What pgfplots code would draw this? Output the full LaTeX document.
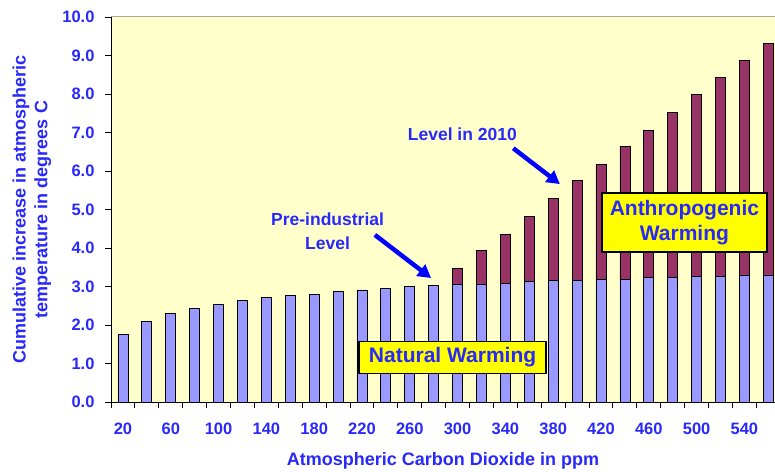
\documentclass[border=0pt]{standalone}
\usepackage{fontspec}
\setmainfont{Liberation Sans}
\usepackage{pgfplots}
\usepackage{pgfplotstable}
\pgfplotsset{compat=1.18}
\usetikzlibrary{arrows.meta}
\definecolor{bgy}{HTML}{FFFFCC}
\definecolor{natblue}{HTML}{9999FF}
\definecolor{anthro}{HTML}{993366}
\definecolor{boxy}{HTML}{FFFF00}
\definecolor{txtblue}{RGB}{40,40,250}
\definecolor{arrblue}{HTML}{0000FF}
\pgfplotstableread{
x nat anth
0 1.75 0
1 2.10 0
2 2.29 0
3 2.44 0
4 2.53 0
5 2.64 0
6 2.72 0
7 2.76 0
8 2.80 0
9 2.87 0
10 2.91 0
11 2.94 0
12 2.99 0
13 3.02 0
14 3.05 0.43
15 3.05 0.89
16 3.08 1.27
17 3.12 1.70
18 3.15 2.13
19 3.15 2.60
20 3.19 2.98
21 3.19 3.45
22 3.23 3.83
23 3.23 4.29
24 3.26 4.73
25 3.26 5.16
26 3.30 5.57
27 3.30 6.01
}\data
\begin{document}
\begin{tikzpicture}
\path[use as bounding box] (0,0) rectangle (775bp,472bp);
\begin{axis}[
  at={(111bp,70bp)}, anchor=south west,
  scale only axis, width=664bp, height=385bp,
  xmin=-0.5, xmax=27.28, ymin=0, ymax=10,
  ybar stacked, bar width=10bp,
  axis x line*=bottom, axis y line*=left,
  axis line style={-, black, line width=0.9bp},
  axis background/.style={fill=bgy},
  clip=false,
  tick align=outside,
  major tick length=6bp, minor tick length=6bp,
  tick style={black, line width=0.9bp},
  major x tick style={draw=none},
  xtick={0,2,...,26},
  xticklabels={20,60,100,140,180,220,260,300,340,380,420,460,500,540},
  minor xtick={-0.5,0.5,...,26.5},
  ytick={0,1,...,10},
  /pgf/number format/assume math mode=true,
  tick label style={font=\fontsize{16.5bp}{18bp}\selectfont\bfseries, text=txtblue},
  xticklabel style={yshift=-11bp},
  yticklabel style={xshift=-7bp, /pgf/number format/fixed, /pgf/number format/fixed zerofill, /pgf/number format/precision=1},
  xlabel={Atmospheric Carbon Dioxide in ppm},
  xlabel style={at={(axis description cs:0.5,-0.153)}, anchor=center, font=\fontsize{18bp}{21bp}\selectfont\bfseries, text=txtblue},
  ylabel={Cumulative increase in atmospheric\\temperature in degrees C},
  ylabel style={at={(axis description cs:-0.119,0.5)}, anchor=center, align=center, font=\fontsize{18bp}{21.7bp}\selectfont\bfseries, text=txtblue},
]
\addplot[fill=natblue, draw=black, line width=0.8bp] table[x=x, y=nat]{\data};
\addplot[fill=anthro, draw=black, line width=0.8bp] table[x=x, y=anth]{\data};
\draw[gray!70, line width=1bp] (rel axis cs:0,1) -- (rel axis cs:1,1);
\coordinate (natbox) at (axis cs:13.79,1.16);
\coordinate (antbox) at (axis cs:23.49,4.66);
\coordinate (pretext) at (axis cs:8.56,4.44);
\coordinate (lvltext) at (axis cs:14.2,6.96);
\coordinate (a1s) at (axis cs:10.54,4.34);
\coordinate (a1e) at (axis cs:12.89,3.22);
\coordinate (a2s) at (axis cs:16.33,6.59);
\coordinate (a2e) at (axis cs:18.28,5.66);
\end{axis}
\node[fill=boxy, draw=black, line width=1.3bp, minimum width=187bp, minimum height=32bp, inner sep=0pt, font=\fontsize{21bp}{24bp}\selectfont\bfseries, text=txtblue] at (natbox) {Natural Warming};
\node[fill=boxy, draw=black, line width=1.3bp, minimum width=165bp, minimum height=59bp, inner sep=0pt, align=center, font=\fontsize{21bp}{25bp}\selectfont\bfseries, text=txtblue] at (antbox) {Anthropogenic\\Warming};
\node[align=center, font=\fontsize{17.5bp}{24bp}\selectfont\bfseries, text=txtblue] at (pretext) {Pre-industrial\\Level};
\node[font=\fontsize{17.5bp}{21bp}\selectfont\bfseries, text=txtblue] at (lvltext) {Level in 2010};
\draw[arrblue, line width=4.5bp, -{Triangle[length=13bp, width=14bp]}] (a1s) -- (a1e);
\draw[arrblue, line width=4.5bp, -{Triangle[length=13bp, width=14bp]}] (a2s) -- (a2e);
\end{tikzpicture}
\end{document}
